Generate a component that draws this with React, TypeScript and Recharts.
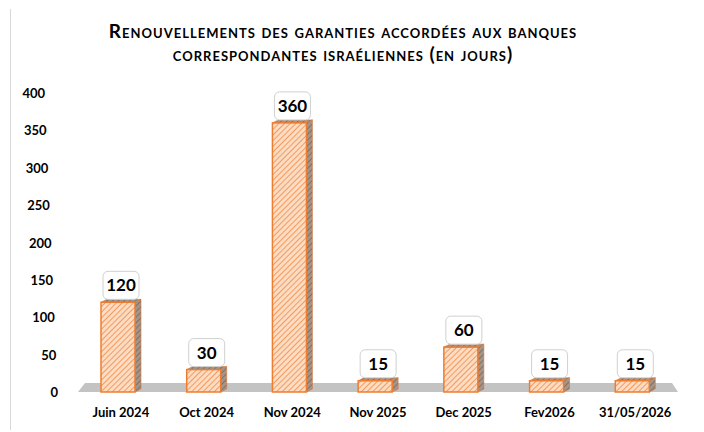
import React from "react";
import { BarChart, Bar, XAxis, YAxis, LabelList, ReferenceArea } from "recharts";

const categories = ["Juin 2024", "Oct 2024", "Nov 2024", "Nov 2025", "Dec 2025", "Fev2026", "31/05/2026"];
const jours = [120, 30, 360, 15, 60, 15, 15];
const yTicks = [0, 50, 100, 150, 200, 250, 300, 350, 400];
const titleLines = ["Renouvellements des garanties accordées aux banques", "correspondantes israéliennes (en jours)"];

const data = categories.map((c, i) => ({ name: c, value: jours[i] }));

const FONT = "Lato, 'Open Sans', sans-serif";

const Bar3D = (props: any) => {
  const { x, y, width, height, index } = props;
  if (height <= 0) return null;
  const fx = x - 3;
  const d = 6;
  const up = 3;
  const id = `hatch-${index}`;
  const idS = `hatchS-${index}`;
  return (
    <g>
      <defs>
        <pattern id={id} width="4" height="4" patternUnits="userSpaceOnUse" patternTransform="rotate(45)">
          <rect width="4" height="4" fill="#fddcc4" />
          <line x1="0" y1="0" x2="0" y2="4" stroke="#f59a5c" strokeWidth="2" />
        </pattern>
        <pattern id={idS} width="4" height="4" patternUnits="userSpaceOnUse" patternTransform="rotate(45)">
          <rect width="4" height="4" fill="#a2958b" />
          <line x1="0" y1="0" x2="0" y2="4" stroke="#8a6e5c" strokeWidth="2" />
        </pattern>
      </defs>
      <polygon
        points={`${fx + width},${y} ${fx + width + d},${y - up} ${fx + width + d},${y + height - up} ${fx + width},${y + height}`}
        fill={`url(#${idS})`}
        stroke="#d9773a"
        strokeWidth={0.6}
      />
      <polygon
        points={`${fx},${y} ${fx + d},${y - up} ${fx + width + d},${y - up} ${fx + width},${y}`}
        fill={`url(#${idS})`}
        stroke="#d9773a"
        strokeWidth={0.6}
      />
      <rect x={fx} y={y} width={width} height={height} fill={`url(#${id})`} stroke="#ed7d31" strokeWidth={1.5} />
    </g>
  );
};

const ValueLabel = (props: any) => {
  const { x, y, width, value } = props;
  const cx = x + width / 2;
  const bw = 36;
  const bh = 28;
  const by = y - bh - 3;
  return (
    <g>
      <rect x={cx - bw / 2} y={by} width={bw} height={bh} rx={5} ry={5} fill="#ffffff" stroke="#d0d0d0" strokeWidth={1} />
      <text x={cx} y={by + bh / 2 + 6} textAnchor="middle" fontFamily={FONT} fontWeight={700} fontSize={17} fill="#000">
        {value}
      </text>
    </g>
  );
};

const YTick = (props: any) => {
  const { x, y, payload } = props;
  const v = Number(payload.value);
  return (
    <text x={x - 14 - (13 * v) / 400} y={y + 5} textAnchor="end" fontFamily={FONT} fontWeight={700} fontSize={13} fill="#000">
      {payload.value}
    </text>
  );
};

const Floor = (props: any) => {
  const { x, y, width, height } = props;
  return (
    <polygon
      points={`${x + 7},${y} ${x + width - 6},${y} ${x + width},${y + height} ${x},${y + height}`}
      fill="#c3c3c3"
    />
  );
};

export default function App() {
  return (
    <div style={{ position: "absolute", left: 0, top: 0, width: 704, height: 432, background: "#fff", overflow: "hidden" }}>
      <div style={{ position: "absolute", left: 10, top: 9, width: 1, height: 421, background: "#d9d9d9" }} />
      <div
        style={{
          position: "absolute",
          left: 23,
          top: 19,
          width: 640,
          textAlign: "center",
          fontFamily: FONT,
          fontWeight: 700,
          fontSize: 19,
          lineHeight: "23px",
          fontVariant: "small-caps",
          color: "#000",
          letterSpacing: 1,
        }}
      >
        {titleLines.map((t, i) => (
          <div key={i}>{t}</div>
        ))}
      </div>
      <BarChart width={704} height={432} data={data} margin={{ top: 93, right: 26, bottom: 10, left: 18 }} barSize={34}>
        <ReferenceArea y1={0} y2={12} fill="#c3c3c3" fillOpacity={1} ifOverflow="visible" shape={<Floor />} />
        <XAxis
          dataKey="name"
          height={30}
          axisLine={false}
          tickLine={false}
          tickMargin={10}
          interval={0}
          tick={{ fontFamily: FONT, fontWeight: 700, fontSize: 13, fill: "#000" }}
        />
        <YAxis domain={[0, 400]} ticks={yTicks} width={60} axisLine={false} tickLine={false} tickMargin={0} tick={<YTick />} interval={0} />
        <Bar dataKey="value" isAnimationActive={false} shape={<Bar3D />}>
          <LabelList dataKey="value" content={<ValueLabel />} />
        </Bar>
      </BarChart>
    </div>
  );
}
